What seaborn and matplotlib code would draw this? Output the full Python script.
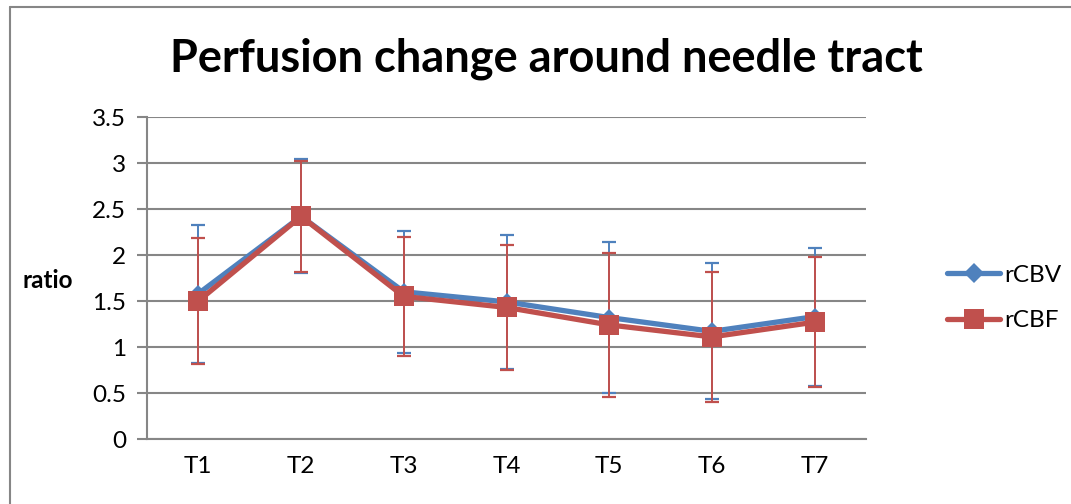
import matplotlib
matplotlib.use("Agg")
import matplotlib.pyplot as plt
from matplotlib.lines import Line2D
import numpy as np
import pandas as pd
import seaborn as sns

# Time points and perfusion ratios (mean and standard deviation)
timepoints = ["T1", "T2", "T3", "T4", "T5", "T6", "T7"]
rcbv_mean = [1.58, 2.42, 1.60, 1.49, 1.32, 1.17, 1.33]
rcbv_sd = [0.75, 0.62, 0.66, 0.73, 0.82, 0.74, 0.75]
rcbf_mean = [1.50, 2.42, 1.55, 1.43, 1.24, 1.11, 1.27]
rcbf_sd = [0.69, 0.60, 0.65, 0.68, 0.78, 0.71, 0.71]
y_ticks = [0, 0.5, 1, 1.5, 2, 2.5, 3, 3.5]

BLUE = "#4F81BD"
RED = "#C0504D"
GRID = "#868686"

sns.set_theme(style="white")
plt.rcParams["font.family"] = ["Lato", "DejaVu Sans"]
plt.rcParams["text.color"] = "black"
plt.rcParams["xtick.color"] = "black"
plt.rcParams["ytick.color"] = "black"

df = pd.DataFrame({
    "time": timepoints * 2,
    "ratio": rcbv_mean + rcbf_mean,
    "sd": rcbv_sd + rcbf_sd,
    "series": ["rCBV"] * 7 + ["rCBF"] * 7,
})

fig = plt.figure(figsize=(10.71, 5.04), dpi=100)
ax = fig.add_axes([147 / 1071, 65 / 504, 719 / 1071, 322 / 504])

styles = {"rCBV": (BLUE, "D", 9), "rCBF": (RED, "s", 14)}
for name in ["rCBV", "rCBF"]:
    sub = df[df["series"] == name]
    color, marker, ms = styles[name]
    ax.errorbar(sub["time"], sub["ratio"], yerr=sub["sd"], fmt="none",
                ecolor=color, elinewidth=1.4, capsize=5, capthick=1.6, zorder=2)
    sns.lineplot(data=sub, x="time", y="ratio", ax=ax, color=color,
                 marker=marker, markersize=ms, markeredgewidth=0,
                 linewidth=3.8, sort=False, zorder=3, label=None, legend=False)

ax.set_xlim(-0.5, 6.5)
ax.set_ylim(0, 3.5)
ax.set_yticks(y_ticks)
ax.set_yticklabels([f"{v:g}" for v in y_ticks], fontsize=17.5)
ax.yaxis.grid(True, color=GRID, linewidth=1.5)
ax.set_axisbelow(True)

ax.set_xticks(range(len(timepoints)))
ax.set_xticklabels(timepoints, fontsize=17.5)
ax.set_xticks(np.arange(-0.5, 7.0, 1.0), minor=True)
ax.tick_params(axis="x", which="major", length=0, pad=12, labelcolor="black")
ax.tick_params(axis="x", which="minor", length=7, width=1.5, color=GRID, direction="out")
ax.tick_params(axis="y", which="major", length=7, width=1.5, color=GRID,
               direction="out", pad=8, labelcolor="black", left=True)

for side in ["top", "right"]:
    ax.spines[side].set_visible(False)
for side in ["left", "bottom"]:
    ax.spines[side].set_color(GRID)
    ax.spines[side].set_linewidth(1.5)

ax.set_xlabel("")
ax.set_ylabel("")
fig.text(48 / 1071, 1 - 280 / 504, "ratio", fontsize=17.5, fontweight="bold",
         color="black", ha="center", va="center")

fig.text(546 / 1071, 1 - 59 / 504, "Perfusion change around needle tract",
         fontsize=32.5, fontweight="bold", color="black", ha="center", va="center")

handles = [
    Line2D([], [], color=BLUE, marker="D", markersize=10, linewidth=3.8, markeredgewidth=0),
    Line2D([], [], color=RED, marker="s", markersize=14, linewidth=3.8, markeredgewidth=0),
]
leg = fig.legend(handles, ["rCBV", "rCBF"], loc="center left",
                 bbox_to_anchor=(925 / 1071, 1 - 298 / 504), frameon=False,
                 fontsize=17.5, handlelength=2.2, handletextpad=0.15, labelspacing=1.0)
for t in leg.get_texts():
    t.set_color("black")

# Chart-area border (left and top edges)
fig.add_artist(Line2D([10 / 1071, 10 / 1071], [0, 1 - 7 / 504],
                      transform=fig.transFigure, color=GRID, linewidth=1.5))
fig.add_artist(Line2D([10 / 1071, 1], [1 - 7 / 504, 1 - 7 / 504],
                      transform=fig.transFigure, color=GRID, linewidth=1.5))

fig.savefig("out.png", dpi=100, facecolor="white")
